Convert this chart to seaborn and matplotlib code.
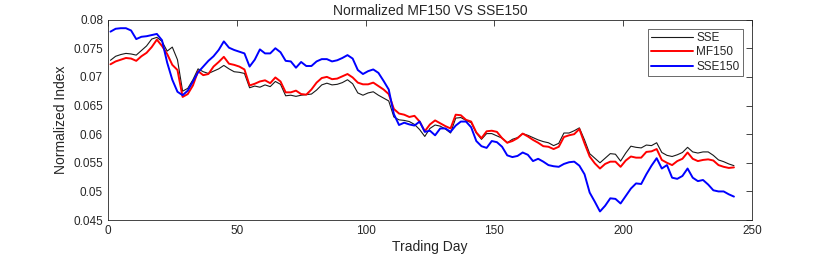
import numpy as np
import pandas as pd
import matplotlib
matplotlib.use("Agg")
import matplotlib.pyplot as plt
import seaborn as sns

# trading days (every second day)
days = list(range(1, 244, 2))

sse150 = [0.0779, 0.0784, 0.0785, 0.0785, 0.0781, 0.0766, 0.0770, 0.0771, 0.0773, 0.0775,
          0.0764, 0.0725, 0.0695, 0.0674, 0.0668, 0.0676, 0.0692, 0.0708, 0.0718, 0.0728,
          0.0736, 0.0747, 0.0762, 0.0751, 0.0747, 0.0744, 0.0741, 0.0718, 0.0730, 0.0748,
          0.0741, 0.0741, 0.0750, 0.0743, 0.0728, 0.0727, 0.0716, 0.0726, 0.0719, 0.0719,
          0.0727, 0.0731, 0.0731, 0.0727, 0.0729, 0.0733, 0.0738, 0.0732, 0.0712, 0.0705,
          0.0710, 0.0713, 0.0707, 0.0693, 0.0678, 0.0635, 0.0616, 0.0620, 0.0617, 0.0615,
          0.0622, 0.0604, 0.0606, 0.0598, 0.0610, 0.0610, 0.0604, 0.0615, 0.0622, 0.0622,
          0.0612, 0.0588, 0.0579, 0.0576, 0.0588, 0.0586, 0.0578, 0.0563, 0.0560, 0.0562,
          0.0568, 0.0564, 0.0553, 0.0557, 0.0552, 0.0546, 0.0544, 0.0543, 0.0548, 0.0551,
          0.0552, 0.0545, 0.0530, 0.0498, 0.0482, 0.0465, 0.0475, 0.0488, 0.0487, 0.0479,
          0.0492, 0.0505, 0.0514, 0.0513, 0.0530, 0.0545, 0.0558, 0.0540, 0.0546, 0.0524,
          0.0522, 0.0527, 0.0540, 0.0524, 0.0518, 0.0520, 0.0512, 0.0502, 0.0500, 0.0500,
          0.0495, 0.0491]

mf150 = [0.0722, 0.0727, 0.0730, 0.0733, 0.0732, 0.0728, 0.0736, 0.0742, 0.0752, 0.0765,
         0.0754, 0.0740, 0.0721, 0.0712, 0.0665, 0.0670, 0.0685, 0.0710, 0.0703, 0.0705,
         0.0718, 0.0726, 0.0735, 0.0723, 0.0721, 0.0718, 0.0713, 0.0685, 0.0688, 0.0692,
         0.0694, 0.0689, 0.0699, 0.0692, 0.0673, 0.0673, 0.0676, 0.0670, 0.0669, 0.0678,
         0.0690, 0.0698, 0.0700, 0.0696, 0.0697, 0.0701, 0.0705, 0.0699, 0.0690, 0.0687,
         0.0687, 0.0690, 0.0684, 0.0678, 0.0670, 0.0644, 0.0636, 0.0634, 0.0630, 0.0632,
         0.0622, 0.0605, 0.0617, 0.0624, 0.0619, 0.0614, 0.0610, 0.0634, 0.0633, 0.0625,
         0.0622, 0.0603, 0.0593, 0.0605, 0.0606, 0.0604, 0.0593, 0.0585, 0.0588, 0.0593,
         0.0601, 0.0596, 0.0590, 0.0585, 0.0579, 0.0578, 0.0574, 0.0578, 0.0595, 0.0598,
         0.0600, 0.0609, 0.0584, 0.0561, 0.0549, 0.0540, 0.0548, 0.0552, 0.0552, 0.0543,
         0.0554, 0.0561, 0.0559, 0.0559, 0.0569, 0.0570, 0.0574, 0.0555, 0.0550, 0.0546,
         0.0553, 0.0557, 0.0568, 0.0557, 0.0553, 0.0555, 0.0556, 0.0554, 0.0546, 0.0543,
         0.0541, 0.0542]

sse = [0.0729, 0.0736, 0.0739, 0.0741, 0.0740, 0.0738, 0.0746, 0.0754, 0.0766, 0.0769,
       0.0762, 0.0745, 0.0752, 0.0730, 0.0675, 0.0680, 0.0695, 0.0714, 0.0709, 0.0706,
       0.0710, 0.0714, 0.0720, 0.0714, 0.0709, 0.0708, 0.0706, 0.0681, 0.0684, 0.0682,
       0.0686, 0.0683, 0.0692, 0.0687, 0.0667, 0.0668, 0.0666, 0.0668, 0.0669, 0.0670,
       0.0677, 0.0686, 0.0689, 0.0686, 0.0687, 0.0690, 0.0695, 0.0688, 0.0672, 0.0668,
       0.0672, 0.0674, 0.0668, 0.0663, 0.0658, 0.0630, 0.0625, 0.0624, 0.0622, 0.0617,
       0.0608, 0.0596, 0.0610, 0.0616, 0.0614, 0.0609, 0.0602, 0.0628, 0.0629, 0.0624,
       0.0620, 0.0602, 0.0591, 0.0601, 0.0601, 0.0597, 0.0593, 0.0585, 0.0591, 0.0594,
       0.0601, 0.0598, 0.0594, 0.0590, 0.0587, 0.0585, 0.0580, 0.0584, 0.0602, 0.0602,
       0.0606, 0.0611, 0.0590, 0.0566, 0.0558, 0.0550, 0.0558, 0.0566, 0.0565, 0.0553,
       0.0567, 0.0579, 0.0577, 0.0576, 0.0581, 0.0580, 0.0585, 0.0568, 0.0563, 0.0561,
       0.0564, 0.0568, 0.0577, 0.0569, 0.0567, 0.0569, 0.0569, 0.0563, 0.0555, 0.0552,
       0.0548, 0.0545]

series_names = ["SSE", "MF150", "SSE150"]
series_colors = ["#1a1a1a", "#ff0000", "#0000ff"]
series_widths = [0.8, 1.4, 1.4]

xticks = [0, 50, 100, 150, 200, 250]
yticks = [0.045, 0.05, 0.055, 0.06, 0.065, 0.07, 0.075, 0.08]
ytick_labels = ["0.045", "0.05", "0.055", "0.06", "0.065", "0.07", "0.075", "0.08"]

sns.set_style("white")
plt.rcParams["font.family"] = ["Liberation Sans", "DejaVu Sans"]

df = pd.DataFrame({"day": days, "SSE": sse, "MF150": mf150, "SSE150": sse150})

fig = plt.figure(figsize=(8.3, 2.58), dpi=100)
ax = fig.add_axes([0.130, 0.147, 0.776, 0.777])

for name, col, lw in zip(series_names, series_colors, series_widths):
    sns.lineplot(data=df, x="day", y=name, color=col, linewidth=lw, label=name, ax=ax)

ax.set_xlim(0, 250)
ax.set_ylim(0.045, 0.08)
ax.set_xticks(xticks)
ax.set_yticks(yticks)
ax.set_yticklabels(ytick_labels)
ax.tick_params(direction="in", length=4, width=0.6, labelsize=8.5, top=True, right=True, colors="#262626")
for s in ax.spines.values():
    s.set_linewidth(0.6)
    s.set_color("#262626")

ax.set_title("Normalized MF150 VS SSE150", fontsize=10, pad=3)
ax.set_xlabel("Trading Day", fontsize=10, labelpad=2)
ax.set_ylabel("Normalized Index", fontsize=10, labelpad=4)

leg = ax.legend(loc="upper right", fontsize=8.5, frameon=True, fancybox=False,
                handlelength=3.5, handletextpad=0.3, borderpad=0.3, labelspacing=0.2,
                bbox_to_anchor=(0.995, 0.985))
leg.get_frame().set_edgecolor("#262626")
leg.get_frame().set_linewidth(0.6)

fig.savefig("out.png", dpi=100)
